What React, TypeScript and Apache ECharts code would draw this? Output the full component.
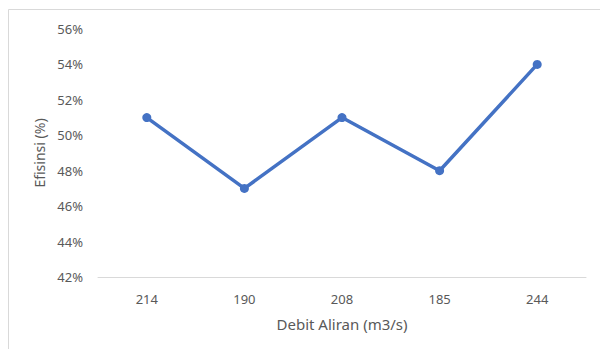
import React, { useEffect, useRef } from "react";
import * as echarts from "echarts";

const categories = ["214", "190", "208", "185", "244"];
const efficiency = [51, 47, 51, 48, 54];
const yMin = 42;
const yMax = 56;
const yStep = 2;

export default function App() {
  const ref = useRef<HTMLDivElement>(null);
  useEffect(() => {
    if (!ref.current) return;
    const chart = echarts.init(ref.current, undefined, { renderer: "svg" });
    const font = "'Noto Sans', 'Open Sans', sans-serif";
    chart.setOption({
      animation: false,
      backgroundColor: "#ffffff",
      graphic: [
        {
          type: "rect",
          shape: { x: 8.5, y: 9.5, width: 620, height: 360 },
          style: { fill: "none", stroke: "#d9d9d9", lineWidth: 1 },
          silent: true,
        },
      ],
      grid: { left: 98, right: 14, top: 29, bottom: 72 },
      xAxis: {
        type: "category",
        data: categories,
        boundaryGap: true,
        name: "Debit Aliran (m3/s)",
        nameLocation: "middle",
        nameGap: 39,
        nameTextStyle: { color: "#595959", fontSize: 15, fontFamily: font },
        axisLine: { lineStyle: { color: "#d9d9d9", width: 1 } },
        axisTick: { show: false },
        axisLabel: { color: "#595959", fontSize: 13, fontFamily: font, margin: 15 },
      },
      yAxis: {
        type: "value",
        min: yMin,
        max: yMax,
        interval: yStep,
        name: "Efisinsi (%)",
        nameLocation: "middle",
        nameGap: 52,
        nameRotate: 90,
        nameTextStyle: { color: "#595959", fontSize: 14, fontFamily: font },
        axisLine: { show: false },
        axisTick: { show: false },
        splitLine: { show: false },
        axisLabel: {
          color: "#595959",
          fontSize: 13,
          fontFamily: font,
          margin: 15,
          formatter: (v: number) => v + "%",
        },
      },
      series: [
        {
          type: "line",
          data: efficiency,
          symbol: "circle",
          symbolSize: 9,
          itemStyle: { color: "#4472C4" },
          lineStyle: { color: "#4472C4", width: 3.5 },
        },
      ],
    });
    return () => chart.dispose();
  }, []);
  return (
    <div
      ref={ref}
      style={{ position: "absolute", left: 0, top: 0, width: 600, height: 349 }}
    />
  );
}
